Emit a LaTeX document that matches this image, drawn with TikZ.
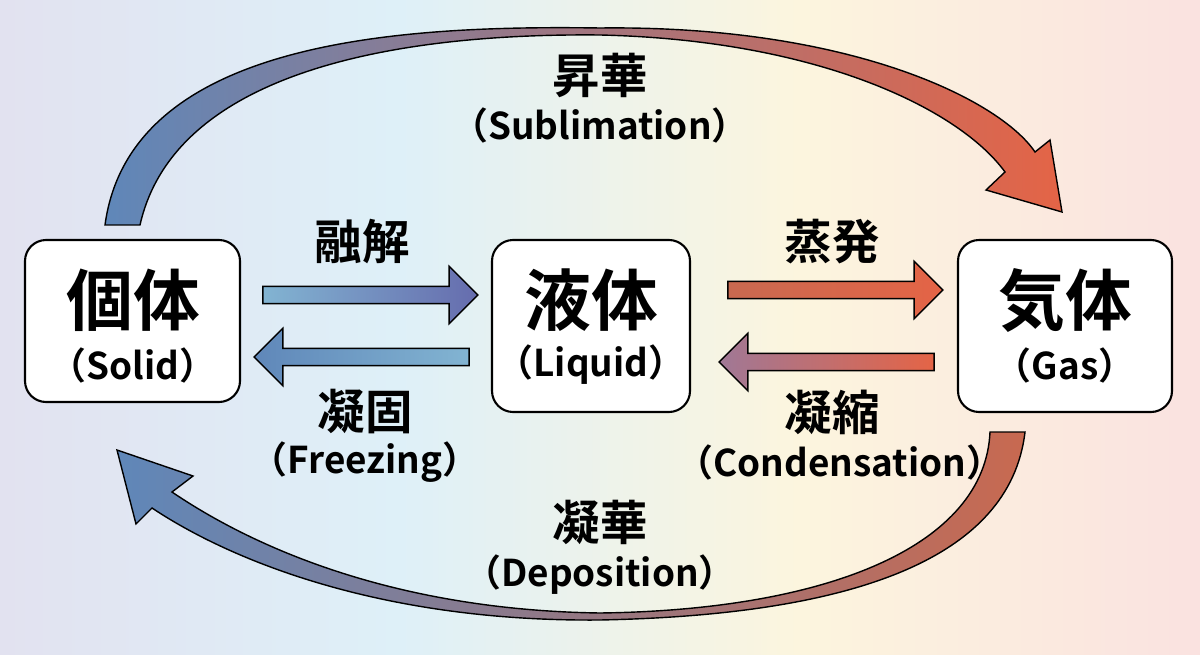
\documentclass[tikz,border=0pt]{standalone}
\usepackage{fontspec}
\setmainfont{Noto Sans CJK JP}[BoldFont={Noto Sans CJK JP Bold}]
\usetikzlibrary{positioning,shapes.arrows}
\definecolor{azul}{RGB}{95,135,185}
\definecolor{azulc}{RGB}{130,180,210}
\definecolor{naranja}{RGB}{228,100,70}
\definecolor{malva}{RGB}{160,120,150}
\definecolor{ladrillo}{RGB}{200,105,80}

\begin{document}
\begin{tikzpicture}[x=0.02cm,y=-0.02cm,
    estado/.style={draw, very thick, rounded corners=12pt, fill=white},
    flecha/.style={single arrow, draw, thick, inner sep=0.16cm, single arrow head extend=0.4cm,
      minimum height=4.3cm, anchor=center},
    grande/.style={font=\bfseries\fontsize{38}{40}\selectfont},
    sub/.style={font=\bfseries\fontsize{21}{24}\selectfont},
    etiq/.style={font=\bfseries\fontsize{27}{29}\selectfont}]
  % Fondo
  \useasboundingbox (0,0) rectangle (1200,655);
  \shade[left color={rgb,255:red,226;green,226;blue,240}, right color={rgb,255:red,222;green,240;blue,248}] (0,0) rectangle (400,655);
  \shade[left color={rgb,255:red,222;green,240;blue,248}, right color={rgb,255:red,252;green,245;blue,222}] (399,0) rectangle (800,655);
  \shade[left color={rgb,255:red,252;green,245;blue,222}, right color={rgb,255:red,250;green,226;blue,224}] (799,0) rectangle (1200,655);

  % Nodos
  \draw[estado] (25,240) rectangle (240,402);
  \draw[estado] (492,240) rectangle (690,412);
  \draw[estado] (958,240) rectangle (1172,412);
  \node[grande] (solido) at (133,300) {個体};
  \node[sub] (solidot) at (133,365) {（Solid）};
  \node[grande] (liquido) at (591,300) {液体};
  \node[sub] (liquidot) at (591,365) {（Liquid）};
  \node[grande] (gas) at (1065,300) {気体};
  \node[sub] (gast) at (1065,365) {（Gas）};

  % Flechas rectas
  \node[flecha, left color=azulc, right color=azul!80!violet] (fusion) at (366,295) {};
  \node[flecha, shape border rotate=180, left color=azul, right color=azulc] (solidif) at (366,357) {};
  \node[flecha, left color=ladrillo, right color=naranja] (evap) at (831,290) {};
  \node[flecha, shape border rotate=180, left color=malva, right color=naranja] (conden) at (831,362) {};

  % Arcos
  \draw[thick, left color=azul, right color=naranja]
    (105,225) .. controls (130,40) and (400,25) .. (600,28)
    .. controls (850,25) and (1000,100) .. (1035,152) -- (1050,140) -- (1062,212) -- (986,190)
    -- (1005,172) .. controls (960,110) and (820,40) .. (600,35)
    .. controls (400,33) and (175,70) .. (140,225) -- cycle;
  \draw[thick, left color=azul, right color=ladrillo]
    (1025,432) .. controls (1010,560) and (850,615) .. (600,620)
    .. controls (380,622) and (230,560) .. (152,508) -- (136,524) -- (117,450) -- (193,476)
    -- (172,492) .. controls (250,545) and (390,610) .. (600,613)
    .. controls (830,610) and (985,545) .. (990,432) -- cycle;

  % Etiquetas
  \node[etiq] (subl) at (600,75) {昇華};
  \node[sub] (sublt) at (600,125) {（Sublimation）};
  \node[etiq] (fus) at (362,242) {融解};
  \node[etiq] (sol) at (365,412) {凝固};
  \node[sub] (solt) at (365,462) {（Freezing）};
  \node[etiq] (eva) at (832,242) {蒸発};
  \node[etiq] (con) at (832,412) {凝縮};
  \node[sub] (cont) at (840,462) {（Condensation）};
  \node[etiq] (dep) at (600,522) {凝華};
  \node[sub] (dept) at (600,575) {（Deposition）};
\end{tikzpicture}
\end{document}
